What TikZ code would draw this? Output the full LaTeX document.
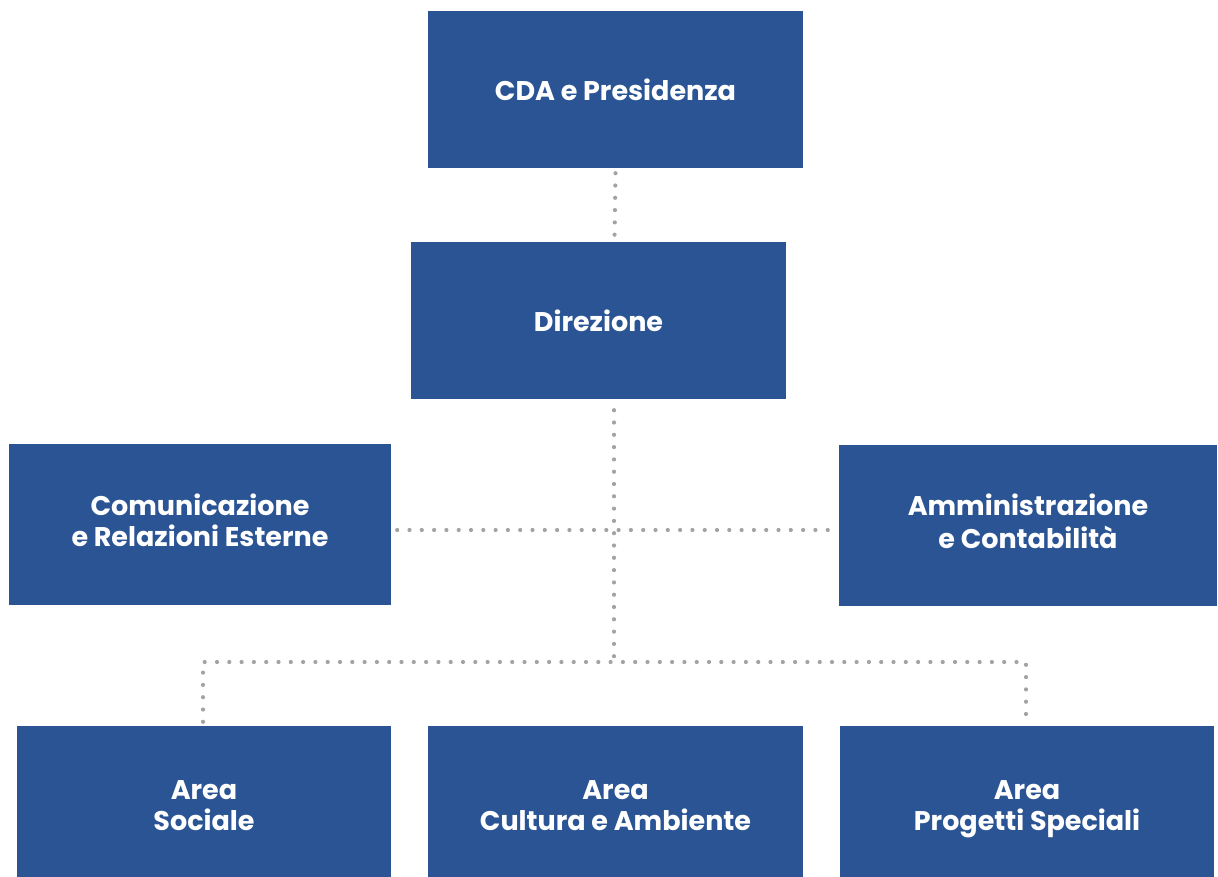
\documentclass[tikz,border=0pt]{standalone}
\usepackage{fontspec}
\setmainfont{Poppins}
\usetikzlibrary{decorations.markings}
\definecolor{boxblue}{HTML}{2A5494}
\definecolor{dotgray}{HTML}{A3A3A3}
\begin{document}
\begin{tikzpicture}[x=1pt,y=-1pt,
  unit/.style={fill=boxblue, draw=none, text=white, font=\fontsize{27}{31}\selectfont\bfseries, align=center, inner sep=0pt, minimum width=375, minimum height=157},
  conn/.style={draw=none, postaction={decorate, decoration={markings, mark=between positions 0 and 1 step 12.3pt with {\fill[dotgray] (0,0) circle (2.1pt);}}}}]
\useasboundingbox (0,0) rectangle (1218,876);
\node[unit] (cda) at (615.5,89.5) {CDA e Presidenza};
\node[unit] (dir) at (598.5,320.5) {Direzione};
\node[unit, minimum width=382, minimum height=161] (com) at (200,524.5) {\strut Comunicazione\\\strut e Relazioni Esterne};
\node[unit, minimum width=378, minimum height=161] (amm) at (1028,525.5) {\strut Amministrazione\\\strut e Contabilità};
\node[unit, minimum width=374, minimum height=166] (soc) at (204,809) {\strut Area\\\strut Sociale};
\node[unit, minimum width=375, minimum height=166] (cul) at (615.5,809) {\strut Area\\\strut Cultura e Ambiente};
\node[unit, minimum width=374, minimum height=166] (prog) at (1027,809) {\strut Area\\\strut Progetti Speciali};
\coordinate (mid) at (614,530);
\coordinate (hub) at (614,662);
\path[conn] ([yshift=-5]cda.south) -- ([xshift=-1,yshift=2]cda.south |- dir.north);
\path[conn] ([xshift=15.5,yshift=-11]dir.south) -- (hub);
\path[conn] ([xshift=6]com.east |- mid) -- ([xshift=-4]amm.west |- mid);
\path[conn] ([xshift=-1,yshift=4]soc.north) -- ([xshift=-1]soc.north |- hub) -- ([xshift=-1]prog.north |- hub) -- ([xshift=-1,yshift=10]prog.north);
\end{tikzpicture}
\end{document}
